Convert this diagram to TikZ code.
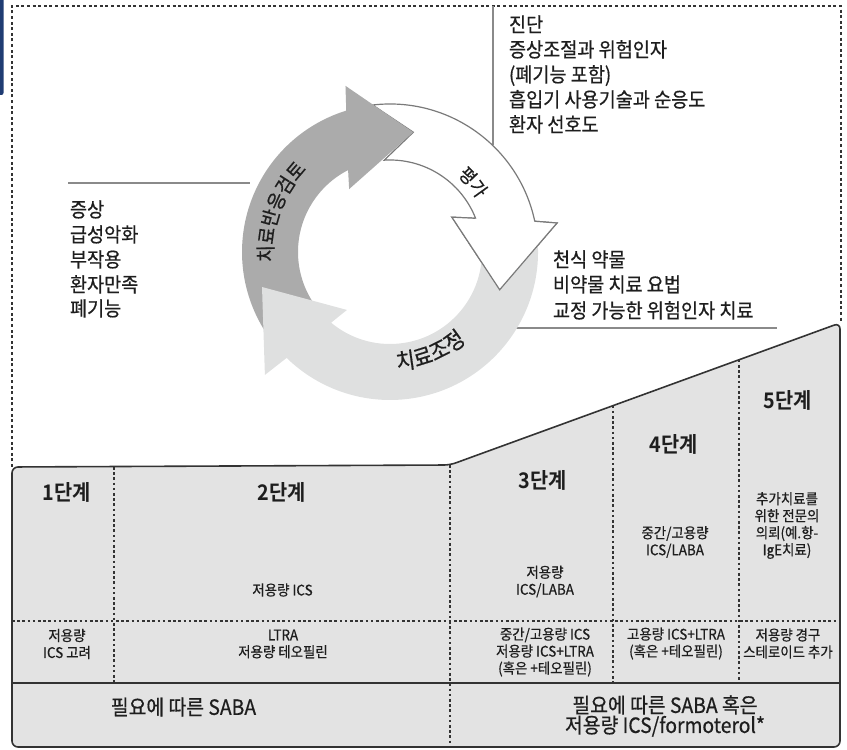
\documentclass[tikz,border=0pt]{standalone}
\usepackage{fontspec}
\setmainfont{Noto Sans CJK KR}[FakeStretch=0.92, BoldFont={Noto Sans CJK KR Bold}, UprightFeatures={FakeBold=0.6}]
\usetikzlibrary{decorations.text}
\definecolor{txt}{HTML}{1E1E1E}
\definecolor{darkarr}{HTML}{ABABAB}
\definecolor{lightarr}{HTML}{DFE0E0}
\definecolor{tbl}{HTML}{E3E3E3}
\definecolor{edge}{HTML}{333333}
\definecolor{ann}{HTML}{8A8A8A}
\definecolor{wout}{HTML}{7A7A7A}
\definecolor{blueedge}{HTML}{1F3C73}
\newcommand{\fArrA}{\fontsize{20}{20}\selectfont}
\newcommand{\fArrB}{\fontsize{18.5}{18.5}\selectfont}
\newcommand{\fArrC}{\fontsize{22.5}{22.5}\selectfont}
\tikzset{
  every node/.style={inner sep=0pt, outer sep=0pt, text=txt},
  bigtxt/.style={font=\fontsize{20.2}{25}\selectfont, anchor=base west},
  stephead/.style={font=\bfseries\fontsize{21.5}{24}\selectfont},
  cell/.style={font=\fontsize{14.6}{17}\selectfont, align=center},
  sabatxt/.style={font=\fontsize{21}{20}\selectfont, align=center},
  dotb/.style={edge, line width=2pt, dash pattern=on 3pt off 2.6pt},
  dotv/.style={edge, line width=1.6pt, dash pattern=on 2.6pt off 2.6pt},
  anno/.style={ann, line width=1.3pt},
  woutline/.style={wout, line width=1.2pt, line join=miter},
}
\begin{document}
\begin{tikzpicture}[x=1pt,y=1pt]
\useasboundingbox (0,0) rectangle (847,750);
% cropped blue frame at the left edge
\fill[blueedge, rounded corners=2pt] (-8,655) rectangle (3.5,756);
% dotted outer frame
\draw[dotb] (12,283) -- (12,744) -- (841,744) -- (841,427);
% leader lines
\coordinate (la1) at (493,744); \coordinate (la2) at (493,605);
\coordinate (lb1) at (68,567);  \coordinate (lb2) at (250,567);
\coordinate (lc1) at (512,422); \coordinate (lc2) at (777,422);
\draw[anno] (la1) -- (la2);
\draw[anno] (lb1) -- (lb2);
\draw[anno] (lc1) -- (lc2);
% cycle
\begin{scope}[shift={(390,498)}]
  % white arrow (assessment)
  \draw[woutline, fill=white] (96.75:148) arc[start angle=96.75, end angle=12, radius=148]
     -- (9.85:169.5) -- (-19:116) -- (29.4:71) -- (21.5:92)
     arc[start angle=21.5, end angle=93.6, radius=92] -- (79:122) -- cycle;
  % dark arrow (review)
  \fill[darkarr] (215:148) arc[start angle=215, end angle=107.2, radius=148]
     -- (105:172) -- (79:122) -- (123:75) -- (117.1:92)
     arc[start angle=117.1, end angle=215, radius=92] -- cycle;
  % light arrow (adjust)
  \fill[lightarr] (8:148) arc[start angle=8, end angle=-134.3, radius=148]
     -- (224.5:175.4) -- (195.3:132.7) -- (233.4:72.2) -- (-129.8:92)
     arc[start angle=-129.8, end angle=8, radius=92] -- cycle;
  % white head again on top
  \fill[white] (9.85:169.5) -- (-19:116) -- (29.4:71) -- cycle;
  \draw[woutline] (12:148) -- (9.85:169.5) -- (-19:116) -- (29.4:71) -- (21.5:92);
  % labels along the arrows
  \path[decorate, decoration={text along path, text align=center, text color=txt,
        text={|\fArrA|치료반응검토}}]
        (208:117) arc[start angle=208, end angle=112, radius=117];
  \path[decorate, decoration={text along path, text align=center, text color=txt,
        text={|\fArrB|평가}}]
        (75:102) arc[start angle=75, end angle=5, radius=102];
  \path[decorate, decoration={text along path, text align=center, text color=txt,
        text={|\fArrC|치료조정}}]
        (247:118) arc[start angle=247, end angle=337, radius=118];
\end{scope}
% text blocks
\node[bigtxt] (a1) at (509,718) {진단};
\node[bigtxt] (a2) at (509,693) {증상조절과 위험인자};
\node[bigtxt] (a3) at (509,668) {(폐기능 포함)};
\node[bigtxt] (a4) at (509,643) {흡입기 사용기술과 순응도};
\node[bigtxt] (a5) at (509,618) {환자 선호도};
\node[bigtxt] (b1) at (70,533) {증상};
\node[bigtxt] (b2) at (70,508) {급성악화};
\node[bigtxt] (b3) at (70,483) {부작용};
\node[bigtxt] (b4) at (70,458) {환자만족};
\node[bigtxt] (b5) at (70,434) {폐기능};
\node[bigtxt] (c1) at (553,483) {천식 약물};
\node[bigtxt] (c2) at (553,458) {비약물 치료 요법};
\node[bigtxt] (c3) at (553,432) {교정 가능한 위험인자 치료};
% table
\draw[edge, line width=1.6pt, fill=tbl, rounded corners=6pt]
  (12,283) -- (450,285) -- (840,427) -- (840,3) -- (12,3) -- cycle;
\draw[dotv] (12,129) -- (840,129);
\draw[edge, line width=1.6pt] (12,67) -- (840,67);
\draw[dotv] (114,283) -- (114,67);
\draw[dotv] (450,285) -- (450,3);
\draw[dotv] (613,344.4) -- (613,67);
\draw[dotv] (739,390.2) -- (739,67);
% table texts
\node[stephead] (s1) at (67,258) {1단계};
\node[stephead] (s2) at (282,258) {2단계};
\node[stephead] (s3) at (543,270) {3단계};
\node[stephead] (s4) at (674,306) {4단계};
\node[stephead] (s5) at (788,350) {5단계};
\node[cell] (t2) at (282.5,160) {저용량 ICS};
\node[cell] (t3) at (545,168.5) {저용량\\ICS/LABA};
\node[cell] (t4) at (675,208) {중간/고용량\\ICS/LABA};
\node[cell] (t5) at (787,224.5) {추가치료를\\위한 전문의\\의뢰(예.항-\\IgE치료)};
\node[cell] (u1) at (67,106) {저용량\\ICS 고려};
\node[cell] (u2) at (283,106) {LTRA\\저용량 테오필린};
\node[cell] (u3) at (545,98) {중간/고용량 ICS\\저용량 ICS+LTRA\\(혹은 +테오필린)};
\node[cell] (u4) at (676,106.5) {고용량 ICS+LTRA\\(혹은 +테오필린)};
\node[cell] (u5) at (788,106.5) {저용량 경구\\스테로이드 추가};
\node[sabatxt] (v1) at (183.5,43) {필요에 따른 SABA};
\node[sabatxt] (v2) at (665,34) {필요에 따른 SABA 혹은\\저용량 ICS/formoterol*};
\end{tikzpicture}
\end{document}
